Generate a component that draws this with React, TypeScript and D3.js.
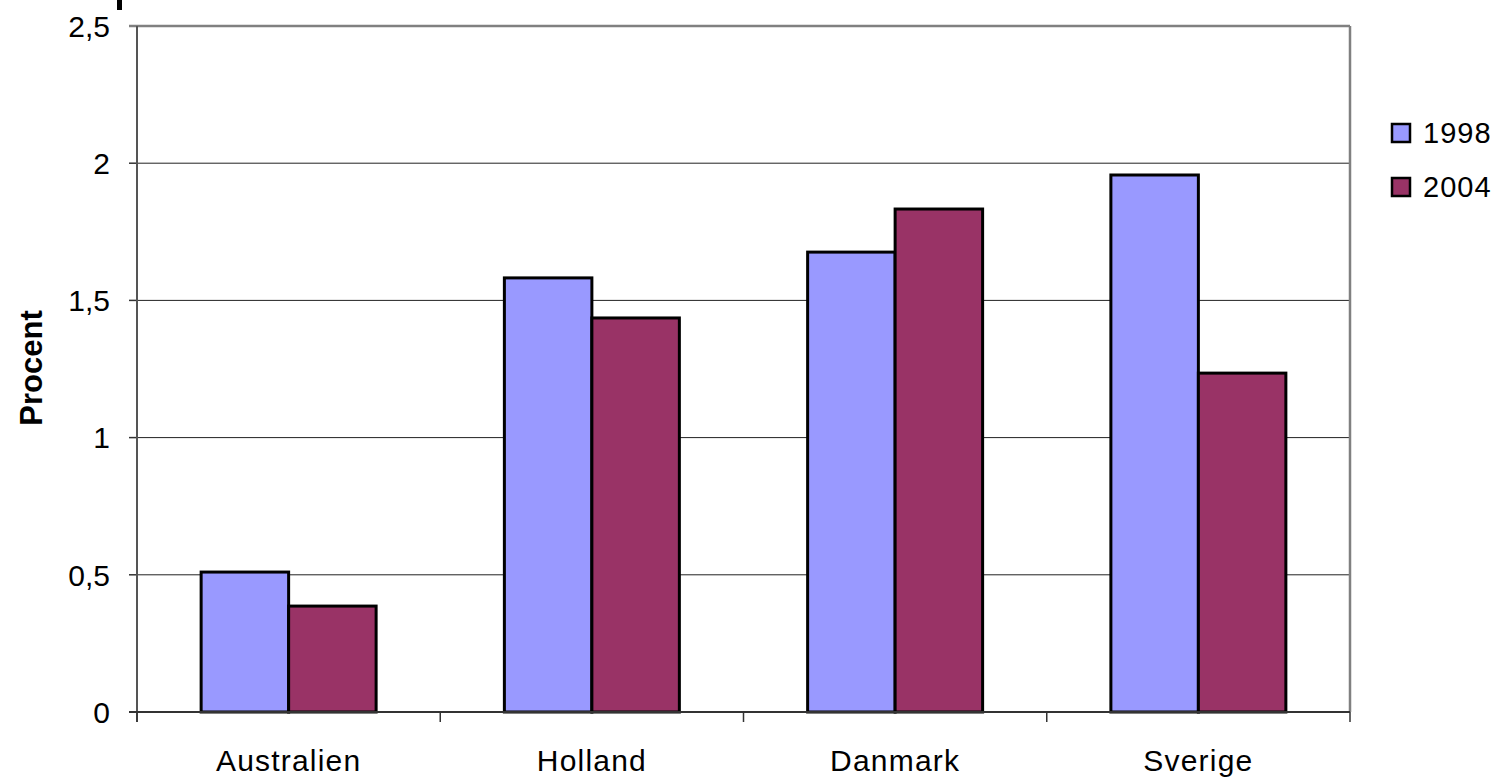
import React from "react";
import * as d3 from "d3";

const categories = ["Australien", "Holland", "Danmark", "Sverige"];
const seriesNames = ["1998", "2004"];
const values1998 = [0.51, 1.582, 1.676, 1.957];
const values2004 = [0.386, 1.436, 1.833, 1.235];
const yTicks = [0, 0.5, 1, 1.5, 2, 2.5];
const yTickLabels = ["0", "0,5", "1", "1,5", "2", "2,5"];
const colors = ["#9999FF", "#993366"];

const W = 1503;
const H = 778;
const M = { left: 137, right: 1350, top: 26, bottom: 712 };
const FONT = "'Liberation Sans', Arial, sans-serif";

export default function App() {
  const x = d3.scaleBand<string>().domain(categories).range([M.left, M.right]).paddingInner(0).paddingOuter(0);
  const y = d3.scaleLinear().domain([0, 2.5]).range([M.bottom, M.top]);
  const inner = d3.scaleBand<string>().domain(seriesNames).range([0, x.bandwidth()]).paddingInner(0).paddingOuter(0.733);
  const series = [values1998, values2004];
  const boundaries = categories.map((c) => x(c)!).concat([M.right]);

  return (
    <svg width={W} height={H} style={{ position: "absolute", left: 0, top: 0, background: "#fff" }} fontFamily={FONT}>
      <rect x={117} y={0} width={5} height={10} fill="#000" />
      {yTicks.map((t, i) => (
        <g key={i}>
          {i > 0 && i < yTicks.length - 1 && (
            <line x1={M.left} x2={M.right} y1={y(t)} y2={y(t)} stroke="#222" strokeWidth={1} />
          )}
          <line x1={M.left - 8} x2={M.left} y1={y(t)} y2={y(t)} stroke="#333" strokeWidth={1.5} />
          <text x={110} y={y(t)} dy="0.36em" textAnchor="end" fontSize={30} fill="#000">
            {yTickLabels[i]}
          </text>
        </g>
      ))}
      <line x1={M.left - 8} x2={M.right} y1={M.top} y2={M.top} stroke="#808080" strokeWidth={2.5} />
      <line x1={M.right} x2={M.right} y1={M.top} y2={M.bottom} stroke="#808080" strokeWidth={2.5} />
      {categories.map((c, ci) =>
        series.map((vals, si) => (
          <rect
            key={c + si}
            x={x(c)! + inner(seriesNames[si])!}
            y={y(vals[ci])}
            width={inner.bandwidth()}
            height={y(0) - y(vals[ci])}
            fill={colors[si]}
            stroke="#000"
            strokeWidth={3}
          />
        ))
      )}
      <line x1={M.left} x2={M.left} y1={M.top} y2={M.bottom + 10} stroke="#555" strokeWidth={2} />
      <line x1={M.left - 8} x2={M.right} y1={M.bottom} y2={M.bottom} stroke="#333" strokeWidth={2} />
      {boundaries.map((b, i) => (
        <line key={i} x1={b} x2={b} y1={M.bottom} y2={M.bottom + 10} stroke="#333" strokeWidth={1.5} />
      ))}
      {categories.map((c) => (
        <text key={c} x={x(c)! + x.bandwidth() / 2} y={771} textAnchor="middle" fontSize={30} letterSpacing={1.2} fill="#000">
          {c}
        </text>
      ))}
      <text transform={`translate(42,368) rotate(-90)`} textAnchor="middle" fontSize={31} fontWeight="bold" fill="#000">
        Procent
      </text>
      {seriesNames.map((s, i) => (
        <g key={s} transform={`translate(1392,${124 + i * 54})`}>
          <rect x={0} y={0} width={18} height={18} fill={colors[i]} stroke="#000" strokeWidth={2.5} />
          <text x={31} y={9} dy="0.36em" fontSize={29} letterSpacing={1} fill="#000">
            {s}
          </text>
        </g>
      ))}
    </svg>
  );
}
